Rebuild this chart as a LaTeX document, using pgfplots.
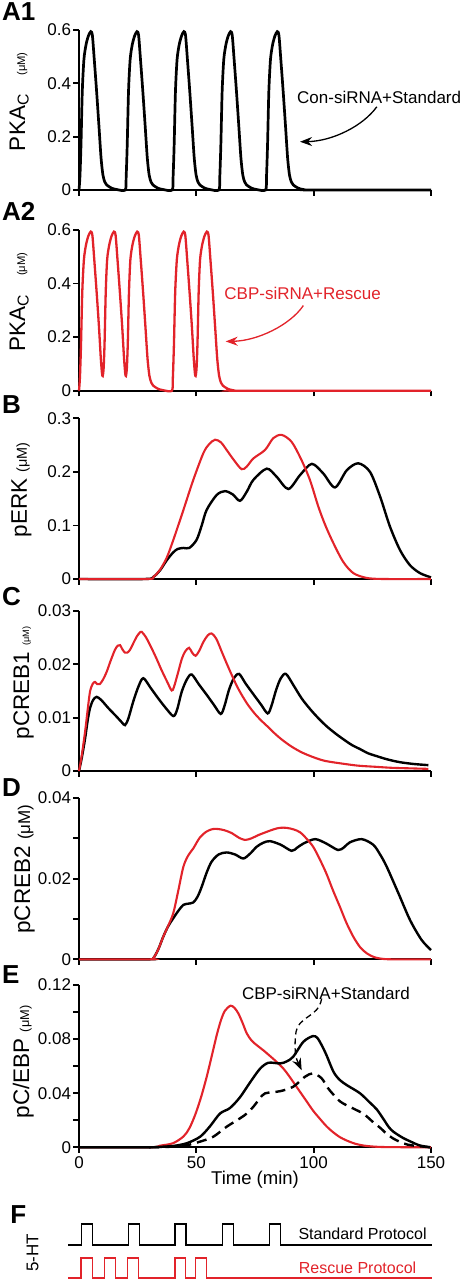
\documentclass[border=0pt]{standalone}
\usepackage{fontspec}
\setmainfont{Liberation Sans}
\usepackage{pgfplots}
\pgfplotsset{compat=1.18}
\usetikzlibrary{arrows.meta}
\definecolor{cred}{RGB}{226,35,42}
\pgfplotsset{
 panel/.style={
  scale only axis, width=176pt, anchor=south west,
  xmin=0, xmax=150,
  axis x line=bottom, axis y line=left,
  axis line style={line width=0.9pt,-},
  xtick={0,50,100,150}, xticklabels={,,,},
  scaled y ticks=false, scaled x ticks=false,
  tick align=outside, major tick length=2.8pt,
  every tick/.style={black, line width=0.9pt},
  tick label style={font=\fontsize{8.5}{10}\selectfont},
  yticklabel style={inner sep=1pt},
  xticklabel style={inner sep=1.5pt},
  clip=false,
  ylabel style={font=\fontsize{11.25}{13}\selectfont, anchor=base},
 },
 blk/.style={black, line width=1.2pt, smooth, tension=0.5},
 rd/.style={cred, line width=1.05pt, smooth, tension=0.5},
}
\newcommand{\um}[1]{{\fontsize{#1}{#1}\selectfont(μM)}}
\newcommand{\panel}[3]{\node[anchor=base west, inner sep=0pt, font=\fontsize{13}{15}\selectfont\bfseries] at (#1pt,#2pt) {#3};}
\begin{document}
\begin{tikzpicture}
\useasboundingbox (0,0) rectangle (230.5pt,-640pt);
% ---------------- A1
\begin{axis}[panel, at={(39.5pt,-95pt)}, height=80pt,
  ymin=0, ymax=0.6, ytick={0,0.2,0.4,0.6}, yticklabels={0,0.2,0.4,0.6},
  ylabel={PKA\textsubscript{C}\hspace{9pt}\um{5.6}},
  ylabel style={at={(axis description cs:-0.153,0.552)}}]
\addplot[black, line width=1.35pt, smooth, tension=0.45] coordinates {
(0,0)(0.4,0.05)(0.85,0.17)(1.4,0.37)(2.1,0.49)(3,0.545)(4,0.578)(5,0.594)(5.7,0.58)(6.5,0.49)(7.5,0.37)(8.5,0.24)(9.4,0.12)(10.2,0.056)(11,0.03)(11.8,0.019)(13.9,0.007)(16,0.002)
(19.7,0)(20.1,0.05)(20.55,0.17)(21.1,0.37)(21.8,0.49)(22.7,0.545)(23.7,0.578)(24.7,0.594)(25.4,0.58)(26.2,0.49)(27.2,0.37)(28.2,0.24)(29.1,0.12)(29.9,0.056)(30.7,0.03)(31.5,0.019)(33.6,0.007)(35.7,0.002)
(39.7,0)(40.1,0.05)(40.55,0.17)(41.1,0.37)(41.8,0.49)(42.7,0.545)(43.7,0.578)(44.7,0.594)(45.4,0.58)(46.2,0.49)(47.2,0.37)(48.2,0.24)(49.1,0.12)(49.9,0.056)(50.7,0.03)(51.5,0.019)(53.6,0.007)(55.7,0.002)
(59.6,0)(60,0.05)(60.45,0.17)(61,0.37)(61.7,0.49)(62.6,0.545)(63.6,0.578)(64.6,0.594)(65.3,0.58)(66.1,0.49)(67.1,0.37)(68.1,0.24)(69,0.12)(69.8,0.056)(70.6,0.03)(71.4,0.019)(73.5,0.007)(75.6,0.002)
(79.5,0)(79.9,0.05)(80.35,0.17)(80.9,0.37)(81.6,0.49)(82.5,0.545)(83.5,0.578)(84.5,0.594)(85.2,0.58)(86,0.49)(87,0.37)(88,0.24)(88.9,0.12)(89.7,0.056)(90.5,0.03)(91.3,0.019)(93.4,0.007)(95.5,0.002)(99,0)(150,0)};
\node[anchor=base west, inner sep=0pt, font=\fontsize{8.5}{10}\selectfont] at (axis cs:92.8,0.326) {Con-siRNA+Standard};
\draw[black, line width=0.65pt, -{Stealth[length=6pt,width=4.5pt]}] (axis cs:126.9,0.312) .. controls (axis cs:121,0.24) and (axis cs:108,0.183) .. (axis cs:94.2,0.181);
\end{axis}
% ---------------- A2
\begin{axis}[panel, at={(39.5pt,-195.35pt)}, height=80.35pt,
  ymin=0, ymax=0.6, ytick={0,0.2,0.4,0.6}, yticklabels={0,0.2,0.4,0.6},
  ylabel={PKA\textsubscript{C}\hspace{9pt}\um{5.6}},
  ylabel style={at={(axis description cs:-0.153,0.552)}}]
\addplot[cred, line width=1.15pt, smooth, tension=0.45] coordinates {
(0,0)(0.4,0.05)(0.85,0.17)(1.4,0.37)(2.1,0.49)(3,0.545)(4,0.578)(5,0.594)(5.7,0.58)(6.5,0.49)(7.5,0.37)(8.5,0.24)(9.3,0.12)(9.8,0.065)(10.1,0.055)
(10.5,0.085)(10.9,0.18)(11.4,0.37)(12,0.49)(12.9,0.545)(13.9,0.578)(14.9,0.594)(15.6,0.58)(16.4,0.49)(17.4,0.37)(18.4,0.24)(19.2,0.12)(19.7,0.065)(20,0.055)
(20.4,0.085)(20.8,0.18)(21.3,0.37)(21.9,0.49)(22.8,0.545)(23.8,0.578)(24.8,0.594)(25.5,0.58)(26.3,0.49)(27.3,0.37)(28.3,0.24)(29.2,0.12)(30,0.056)(30.8,0.03)(31.6,0.019)(33.7,0.007)(35.8,0.002)
(39.6,0)(40,0.05)(40.45,0.17)(41,0.37)(41.7,0.49)(42.6,0.545)(43.6,0.578)(44.6,0.594)(45.3,0.58)(46.1,0.49)(47.1,0.37)(48.1,0.24)(48.9,0.12)(49.4,0.065)(49.7,0.055)
(50.1,0.085)(50.5,0.18)(51,0.37)(51.6,0.49)(52.5,0.545)(53.5,0.578)(54.5,0.594)(55.2,0.58)(56,0.49)(57,0.37)(58,0.24)(58.9,0.12)(59.7,0.056)(60.5,0.03)(61.3,0.019)(63.4,0.007)(65.5,0.002)(69,0)(150,0)};
\node[anchor=base west, inner sep=0pt, text=cred, font=\fontsize{8.5}{10}\selectfont] at (axis cs:61.8,0.340) {CBP-siRNA+Rescue};
\draw[cred, line width=0.65pt, -{Stealth[length=6pt,width=4.5pt]}] (axis cs:95.6,0.318) .. controls (axis cs:90,0.245) and (axis cs:76,0.186) .. (axis cs:62.5,0.184);
\end{axis}
% ---------------- B
\begin{axis}[panel, at={(39.5pt,-289.5pt)}, height=80.35pt,
  ymin=0, ymax=0.3, ytick={0,0.1,0.2,0.3}, yticklabels={0,0.1,0.2,0.3},
  ylabel={pERK \um{7.2}},
  ylabel style={at={(axis description cs:-0.148,0.554)}}]
\addplot[blk] coordinates {
(0,0)(28,0)(31.7,0.004)(34.5,0.016)(37.4,0.035)(40,0.049)(42,0.056)(44.5,0.058)(47,0.058)(50.1,0.073)(52.3,0.1)(54.4,0.129)(58.7,0.157)(62.2,0.164)(65.5,0.158)(68.6,0.146)(71.5,0.163)(74.3,0.185)(80,0.206)(84.2,0.191)(89.2,0.168)(94.2,0.194)(99.2,0.215)(104.1,0.197)(109.1,0.171)(114.1,0.203)(119,0.216)(124,0.2)(128.3,0.154)(132.5,0.098)(136.8,0.054)(141,0.026)(145.3,0.011)(150,0.003)};
\addplot[rd] coordinates {
(0,0)(29,0)(31.7,0.004)(34.5,0.017)(37.4,0.04)(40.2,0.073)(44.5,0.129)(48.7,0.185)(53,0.235)(55.5,0.252)(58,0.26)(60.5,0.255)(62.9,0.241)(66,0.222)(69.3,0.205)(71.5,0.21)(74.3,0.225)(79.3,0.241)(82.8,0.263)(86.4,0.269)(90.6,0.256)(94.5,0.225)(98.4,0.185)(102,0.135)(105,0.1)(108.4,0.067)(112.6,0.032)(116.9,0.011)(122.6,0.002)(130,0)(150,0)};
\end{axis}
% ---------------- C
\begin{axis}[panel, at={(39.5pt,-385.5pt)}, height=80pt,
  ymin=0, ymax=0.03, ytick={0,0.01,0.02,0.03}, yticklabels={0,0.01,0.02,0.03},
  ylabel={pCREB1 \um{4.6}},
  ylabel style={at={(axis description cs:-0.142,0.55)}}]
\addplot[blk] coordinates {
(0,0)(1.2,0.0025)(2.6,0.0061)(3.7,0.0095)(4.7,0.0118)(6,0.0133)(7.5,0.0139)(9.5,0.0133)(12.5,0.0118)(16,0.0102)(18.3,0.0091)(19.6,0.0086)(21,0.0098)(23.1,0.013)(25.3,0.0158)(27.4,0.0174)(30.5,0.0156)(33.8,0.0136)(37,0.0118)(40.2,0.0103)(41.8,0.0115)(43.8,0.0149)(46,0.0172)(48,0.0181)(51,0.0163)(54.4,0.0143)(57.5,0.0124)(60.4,0.0107)(62,0.0122)(63.9,0.0152)(66,0.0174)(68.2,0.0182)(71,0.0164)(74.3,0.0144)(77.5,0.0125)(80.4,0.0108)(82,0.0122)(84,0.0152)(86,0.0174)(88.2,0.0182)(91.5,0.016)(94.9,0.0136)(98.5,0.0116)(102,0.0099)(105.5,0.0084)(109.1,0.0071)(112.5,0.006)(116.2,0.0049)(119.8,0.0041)(123.3,0.0033)(126.8,0.0028)(130.4,0.0023)(134,0.0019)(137.5,0.0016)(143,0.0013)(148.9,0.0011)};
\addplot[rd] coordinates {
(0,0)(1.2,0.003)(2.6,0.0074)(3.7,0.0115)(4.7,0.0149)(5.8,0.0163)(6.8,0.0167)(7.8,0.0163)(8.9,0.0163)(10.3,0.0172)(11.8,0.0186)(13.5,0.0207)(15.3,0.0227)(16.5,0.0235)(17.5,0.0236)(18.5,0.0228)(19.6,0.0222)(20.6,0.0222)(21.7,0.0227)(23.2,0.024)(24.6,0.0252)(25.8,0.0259)(26.7,0.0261)(28.5,0.0251)(30.3,0.0236)(32.8,0.0213)(35.2,0.0189)(37.5,0.0168)(39.5,0.0151)(40.5,0.0158)(42.3,0.0186)(43.8,0.021)(45.2,0.0224)(46.9,0.0231)(48.2,0.0222)(49.7,0.0216)(51.3,0.0226)(53,0.0242)(54.8,0.0254)(56.5,0.0258)(58.5,0.0248)(60.8,0.0224)(63,0.0201)(65.1,0.018)(67.2,0.016)(69.3,0.0143)(72,0.0124)(75,0.0107)(77.8,0.0094)(80.7,0.0082)(83.5,0.007)(86.4,0.0059)(90.5,0.0046)(94.9,0.0035)(99.8,0.0026)(104.8,0.0019)(112,0.0014)(119,0.001)(126,0.0008)(133.3,0.0006)(141,0.0005)(148.9,0.0004)};
\end{axis}
% ---------------- D
\begin{axis}[panel, at={(39.5pt,-479.65pt)}, height=80.65pt,
  ymin=0, ymax=0.04, ytick={0,0.01,0.02,0.03,0.04}, yticklabels={0,,0.02,,0.04},
  ylabel={pCREB2 \um{8.5}},
  ylabel style={at={(axis description cs:-0.139,0.56)}}]
\addplot[blk] coordinates {
(0,0)(30,0)(31.7,0.0003)(33.8,0.0025)(35.9,0.0056)(38,0.0082)(40.2,0.0102)(42.3,0.012)(44.5,0.0135)(46.6,0.0138)(48.7,0.0141)(50.5,0.0155)(52.3,0.018)(54.4,0.0215)(56.5,0.0242)(59.5,0.026)(62.9,0.0265)(66.5,0.026)(70,0.025)(72.9,0.0262)(75.7,0.0279)(78.5,0.0289)(81.4,0.0293)(86,0.0284)(90.6,0.0269)(93,0.0277)(95.6,0.0287)(100.6,0.0298)(105.4,0.0287)(110.4,0.0271)(113,0.0278)(115.4,0.029)(120.5,0.0298)(125.4,0.0284)(128.3,0.026)(131.1,0.023)(136.1,0.0164)(141.1,0.0097)(146,0.0048)(150,0.0023)};
\addplot[rd] coordinates {
(0,0)(30,0)(31.7,0.0003)(33.8,0.0025)(35.9,0.0056)(38,0.0083)(40.2,0.0115)(42.3,0.017)(44.5,0.023)(46.6,0.0258)(48.7,0.0275)(51.5,0.0302)(54.4,0.0317)(57,0.0323)(59.4,0.0323)(62,0.032)(65.1,0.0313)(68,0.0302)(70.7,0.0296)(73.5,0.03)(76.4,0.0308)(79.5,0.0315)(82.8,0.0322)(85.5,0.0326)(88.5,0.0326)(91.5,0.0322)(94.2,0.0315)(97,0.0299)(99.8,0.0279)(102.6,0.0248)(105.4,0.0213)(108.3,0.017)(111.2,0.013)(114,0.009)(116.9,0.0056)(119.8,0.003)(122.6,0.0015)(125.5,0.0006)(128.3,0.0002)(133,0)(150,0)};
\end{axis}
% ---------------- E
\begin{axis}[panel, at={(39.5pt,-573.65pt)}, height=81.15pt,
  ymin=0, ymax=0.12, ytick={0,0.02,0.04,0.06,0.08,0.1,0.12}, yticklabels={0,,0.04,,0.08,,0.12},
  xticklabels={0,50,100,150},
  xlabel={Time (min)},
  xlabel style={font=\fontsize{9.25}{11}\selectfont, at={(axis description cs:0.5,-0.232)}, anchor=base},
  ylabel={pC/EBP \um{6.4}},
  ylabel style={at={(axis description cs:-0.142,0.526)}}]
\addplot[rd] coordinates {
(0,0)(30,0)(34.5,0.0012)(40,0.003)(44.5,0.008)(47,0.014)(49.5,0.024)(52,0.037)(54.4,0.052)(56.5,0.067)(58.7,0.083)(60.5,0.094)(62.2,0.101)(64.6,0.1047)(66.3,0.103)(67.9,0.099)(69.7,0.092)(71.5,0.0842)(73.5,0.079)(75.7,0.0756)(78.5,0.0718)(81.4,0.0675)(84.2,0.0632)(87.1,0.0582)(89.2,0.0535)(91.3,0.0483)(94.2,0.041)(97,0.034)(99.8,0.027)(102.7,0.021)(105.5,0.0155)(108.4,0.011)(111.2,0.0075)(114.1,0.005)(118,0.0025)(122.6,0.001)(130,0.0002)(150,0)};
\addplot[blk] coordinates {
(0,0)(30,0)(36,0.0005)(40.2,0.001)(45.9,0.003)(51.6,0.0078)(55.8,0.0155)(60.1,0.025)(64.3,0.029)(68.6,0.037)(72.9,0.048)(77.1,0.058)(80.7,0.0625)(85.7,0.062)(88.5,0.0635)(91.3,0.067)(95.6,0.078)(99.6,0.0822)(101.5,0.081)(103.4,0.0756)(105.5,0.068)(108.4,0.056)(111,0.05)(114.1,0.046)(119.7,0.04)(124,0.033)(126.9,0.028)(129.7,0.021)(132,0.015)(134,0.0115)(138,0.007)(141,0.0045)(145,0.0015)(149.6,0)};
\addplot[black, line width=1.2pt, smooth, tension=0.5, dash pattern=on 5pt off 3pt] coordinates {
(30,0)(40.2,0.0005)(45.9,0.0015)(51.6,0.0042)(57.2,0.0078)(62.9,0.0152)(68.6,0.0214)(71.5,0.025)(74.3,0.03)(77,0.036)(79.3,0.0399)(85.7,0.0415)(91.3,0.0448)(96.3,0.0522)(99.8,0.0547)(103.4,0.051)(106,0.044)(108.4,0.039)(111.2,0.034)(114.1,0.031)(121,0.025)(125.4,0.0185)(128.3,0.0145)(131.1,0.01)(133.9,0.0065)(136.8,0.004)(140,0.002)(143.9,0.001)(150,0)};
\node[anchor=base west, inner sep=0pt, font=\fontsize{8.5}{10}\selectfont] at (axis cs:69.3,0.1096) {CBP-siRNA+Standard};
\draw[black, line width=0.65pt, dash pattern=on 3pt off 2pt, -{Stealth[length=6pt,width=4.5pt]}] (axis cs:103.4,0.110) .. controls (axis cs:102,0.095) and (axis cs:93,0.098) .. (axis cs:92.3,0.083) .. controls (axis cs:91.5,0.068) and (axis cs:93,0.064) .. (axis cs:94.9,0.057);
\end{axis}
% ---------------- F
\begin{axis}[at={(39.5pt,-640pt)}, anchor=south west, scale only axis, width=176pt, height=40pt,
  xmin=0, xmax=150, ymin=0, ymax=80, hide axis, clip=false]
\addplot[black, line width=0.65pt] coordinates {
(-4.6,35)(1,35)(1,56)(5.8,56)(5.8,35)(21,35)(21,56)(25.9,56)(25.9,35)(40.9,35)(40.9,56)(45.6,56)(45.6,35)(61.1,35)(61.1,56)(65.8,56)(65.8,35)(81.1,35)(81.1,56)(85.9,56)(85.9,35)(150.5,35)};
\addplot[cred, line width=0.65pt] coordinates {
(-4.6,2)(0.9,2)(0.9,22)(5.7,22)(5.7,2)(10.8,2)(10.8,22)(15.6,22)(15.6,2)(20.6,2)(20.6,22)(25.3,22)(25.3,2)(40.9,2)(40.9,22)(45.5,22)(45.5,2)(49.7,2)(49.7,22)(54.4,22)(54.4,2)(150.5,2)};
\node[anchor=base east, inner sep=0pt, font=\fontsize{8}{10}\selectfont] at (axis cs:148.3,40.7) {Standard Protocol};
\node[anchor=base east, inner sep=0pt, text=cred, font=\fontsize{8}{10}\selectfont] at (axis cs:143.9,6.7) {Rescue Protocol};
\node[anchor=base, rotate=90, inner sep=0pt, font=\fontsize{8.5}{10}\selectfont] at (axis cs:-17.3,27) {5-HT};
\end{axis}
% panel letters
\panel{0.85}{-10.35}{A1}
\panel{0.85}{-110.35}{A2}
\panel{0.85}{-206.75}{B}
\panel{0.85}{-302.5}{C}
\panel{0.85}{-398.35}{D}
\panel{0.85}{-491.75}{E}
\panel{5}{-611.65}{F}
\end{tikzpicture}
\end{document}
